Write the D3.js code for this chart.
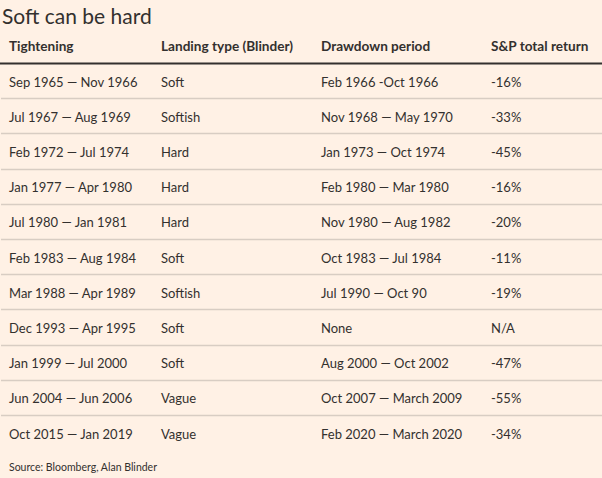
<!DOCTYPE html>
<html><head><meta charset="utf-8">
<script src="https://cdn.jsdelivr.net/npm/d3@7"></script>
<style>
html,body{margin:0;padding:0;background:#FFF1E5;}
svg{display:block;}
</style></head>
<body>
<script>
const title = "Soft can be hard";
const headers = ["Tightening", "Landing type (Blinder)", "Drawdown period", "S&P total return"];
const tightening = ["Sep 1965 — Nov 1966","Jul 1967 — Aug 1969","Feb 1972 — Jul 1974","Jan 1977 — Apr 1980","Jul 1980 — Jan 1981","Feb 1983 — Aug 1984","Mar 1988 — Apr 1989","Dec 1993 — Apr 1995","Jan 1999 — Jul 2000","Jun 2004 — Jun 2006","Oct 2015 — Jan 2019"];
const landing = ["Soft","Softish","Hard","Hard","Hard","Soft","Softish","Soft","Soft","Vague","Vague"];
const drawdown = ["Feb 1966 -Oct 1966","Nov 1968 — May 1970","Jan 1973 — Oct 1974","Feb 1980 — Mar 1980","Nov 1980 — Aug 1982","Oct 1983 — Jul 1984","Jul 1990 — Oct 90","None","Aug 2000 — Oct 2002","Oct 2007 — March 2009","Feb 2020 — March 2020"];
const spReturn = ["-16%","-33%","-45%","-16%","-20%","-11%","-19%","N/A","-47%","-55%","-34%"];
const source = "Source: Bloomberg, Alan Blinder";

const W = 602, H = 478;
const font = "Lato, 'Open Sans', sans-serif";
const ink = "#33302E";

const svg = d3.select("body").append("svg").attr("width", W).attr("height", H)
  .style("background", "#FFF1E5");

const rows = tightening.map((t, i) => [t, landing[i], drawdown[i], spReturn[i]]);

const y = d3.scaleBand().domain(d3.range(rows.length)).range([64, 451.2]);
const x = d3.scaleOrdinal().domain(d3.range(4)).range([9, 161, 321, 491]);

svg.append("text").attr("x", 2).attr("y", 24)
  .attr("font-family", font).attr("font-size", 21).attr("fill", ink).text(title);

svg.append("g").selectAll("text").data(headers).join("text")
  .attr("x", (d, i) => x(i)).attr("y", 51)
  .attr("font-family", font).attr("font-size", 13.6).attr("font-weight", 700)
  .attr("fill", ink).text(d => d);

svg.append("line").attr("x1", 0).attr("x2", W).attr("y1", 63.5).attr("y2", 63.5)
  .attr("stroke", ink).attr("stroke-width", 2);

svg.append("g").selectAll("line").data(d3.range(1, rows.length)).join("line")
  .attr("x1", 1).attr("x2", W)
  .attr("y1", i => Math.round(y(i)) - 0.5).attr("y2", i => Math.round(y(i)) - 0.5)
  .attr("stroke", "#D8CDC3").attr("stroke-width", 1.5);

const rowG = svg.append("g").selectAll("g").data(rows).join("g")
  .attr("transform", (d, i) => `translate(0,${y(i) + y.bandwidth() / 2})`);

rowG.selectAll("text").data(d => d).join("text")
  .attr("x", (d, i) => x(i)).attr("y", 5)
  .attr("font-family", font).attr("font-size", 13).attr("fill", ink)
  .text(d => d);

svg.append("text").attr("x", 9).attr("y", 471)
  .attr("font-family", font).attr("font-size", 10.5).attr("fill", ink).text(source);
</script>
</body></html>
